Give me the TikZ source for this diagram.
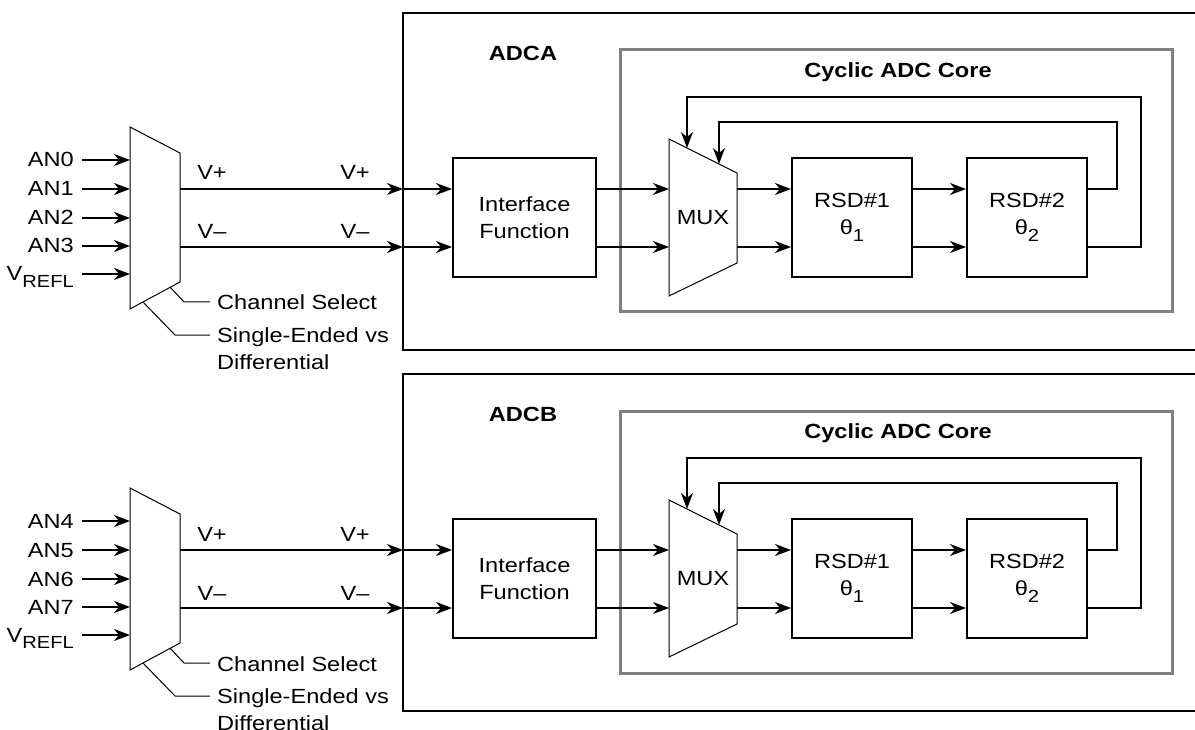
\documentclass[tikz,border=0pt]{standalone}
\usepackage{fontspec}
\setmainfont{Liberation Sans}[FakeStretch=1.15]
\usetikzlibrary{arrows.meta}
\definecolor{coregray}{RGB}{128,128,128}
\newcommand\lowsub[1]{\raisebox{-0.33em}{\fontsize{17.5}{17.5}\selectfont #1}}
\begin{document}
\begin{tikzpicture}[x=1pt,y=-1pt,
  font=\fontsize{20.5}{27}\selectfont,
  wire/.style={line width=1.5pt},
  arr/.style={wire,-{Stealth[length=16pt,width=12pt,inset=5pt]}},
  blk/.style={draw,line width=2pt,inner sep=0pt,align=center,minimum height=119pt},
  trap/.style={draw,line width=1pt,line join=miter},
  title/.style={font=\fontsize{20.5}{27}\selectfont\bfseries},
  plain/.style={inner sep=0pt}]
\useasboundingbox (0,0) rectangle (1195,730);
\foreach \off/\s/\lab/\ia/\ib/\ic/\id in {0/A/ADCA/AN0/AN1/AN2/AN3,361/B/ADCB/AN4/AN5/AN6/AN7}{
\begin{scope}[yshift=-\off pt]
  % outer ADC box (open on the right)
  \draw[line width=2pt] (1200,13) -- (403,13) -- (403,350) -- (1200,350);
  \node[title] (lab\s) at (523,53) {\lab};
  % cyclic core
  \draw[draw=coregray,line width=3pt] (620,50) rectangle (1172,312);
  \node[title] (core\s) at (898,72) {Cyclic ADC Core};
  % input multiplexer
  \coordinate (p1\s) at (130,127);
  \coordinate (p2\s) at (180,153);
  \coordinate (p3\s) at (180,282);
  \coordinate (p4\s) at (130,309);
  \draw[trap] (p1\s) -- (p2\s) -- (p3\s) -- (p4\s) -- cycle;
  \foreach \t/\yy [count=\k] in {\ia/160,\ib/189,\ic/218,\id/246}{
    \node[plain,anchor=base east] (in\s\k) at (74,\yy+7) {\t};
    \coordinate (src\s\k) at (82,\yy);
    \coordinate (dst\s\k) at (130,\yy);
    \draw[arr] (src\s\k) -- (dst\s\k);
  }
  \node[plain,anchor=base east] (in\s5) at (74,281) {V\lowsub{REFL}};
  \coordinate (src\s5) at (82,274);
  \coordinate (dst\s5) at (130,274);
  \draw[arr] (src\s5) -- (dst\s5);
  % control labels
  \coordinate (cs1\s) at (170,287);
  \coordinate (cs2\s) at (210,302);
  \node[plain,anchor=base west] (chsel\s) at (217,310) {Channel Select};
  \draw[line width=1pt] (cs1\s) -- (184,302) -- (cs2\s);
  \coordinate (se1\s) at (143,302);
  \coordinate (se2\s) at (210,335);
  \node[plain,anchor=base west] (sedf\s) at (217,342) {Single-Ended vs};
  \node[plain,anchor=base west] (diff\s) at (217,369) {Differential};
  \draw[line width=1pt] (se1\s) -- (175,335) -- (se2\s);
  % V+ / V- lines
  \coordinate (o1\s) at (180,189);
  \coordinate (o2\s) at (180,247);
  \coordinate (b1\s) at (403,189);
  \coordinate (b2\s) at (403,247);
  \node[plain,anchor=base] (vp1\s) at (212,180) {V+};
  \node[plain,anchor=base] (vp2\s) at (355,180) {V+};
  \node[plain,anchor=base] (vm1\s) at (212,239) {V--};
  \node[plain,anchor=base] (vm2\s) at (355,239) {V--};
  \draw[arr] (o1\s) -- (b1\s);
  \draw[arr] (o2\s) -- (b2\s);
  % interface function
  \node[blk,minimum width=143pt] (int\s) at (524.5,217.5) {Interface\\Function};
  \draw[arr] (b1\s) -- (int\s.west |- b1\s);
  \draw[arr] (b2\s) -- (int\s.west |- b2\s);
  % core MUX
  \coordinate (m1\s) at (669,139);
  \coordinate (m2\s) at (737,173);
  \coordinate (m3\s) at (737,263);
  \coordinate (m4\s) at (669,296);
  \draw[trap] (m1\s) -- (m2\s) -- (m3\s) -- (m4\s) -- cycle;
  \node[plain] (mux\s) at (703,218) {MUX};
  \coordinate (mi1\s) at (669,189);
  \coordinate (mi2\s) at (669,247);
  \coordinate (mo1\s) at (737,189);
  \coordinate (mo2\s) at (737,247);
  \draw[arr] (int\s.east |- mi1\s) -- (mi1\s);
  \draw[arr] (int\s.east |- mi2\s) -- (mi2\s);
  % RSD stages
  \node[blk,minimum width=120pt] (rsda\s) at (852,217.5) {RSD\#1\\θ\lowsub{1}};
  \node[blk,minimum width=120pt] (rsdb\s) at (1027,217.5) {RSD\#2\\θ\lowsub{2}};
  \draw[arr] (mo1\s) -- (rsda\s.west |- mo1\s);
  \draw[arr] (mo2\s) -- (rsda\s.west |- mo2\s);
  \draw[arr] (rsda\s.east |- mo1\s) -- (rsdb\s.west |- mo1\s);
  \draw[arr] (rsda\s.east |- mo2\s) -- (rsdb\s.west |- mo2\s);
  % feedback
  \coordinate (fa\s) at (719,164);
  \coordinate (fb\s) at (687,148);
  \draw[arr,line join=miter] (rsdb\s.east |- mo1\s) -- (1117,189) -- (1117,122) -- (719,122) -- (fa\s);
  \draw[arr,line join=miter] (rsdb\s.east |- mo2\s) -- (1141,247) -- (1141,97) -- (687,97) -- (fb\s);
\end{scope}
}
\end{tikzpicture}
\end{document}
